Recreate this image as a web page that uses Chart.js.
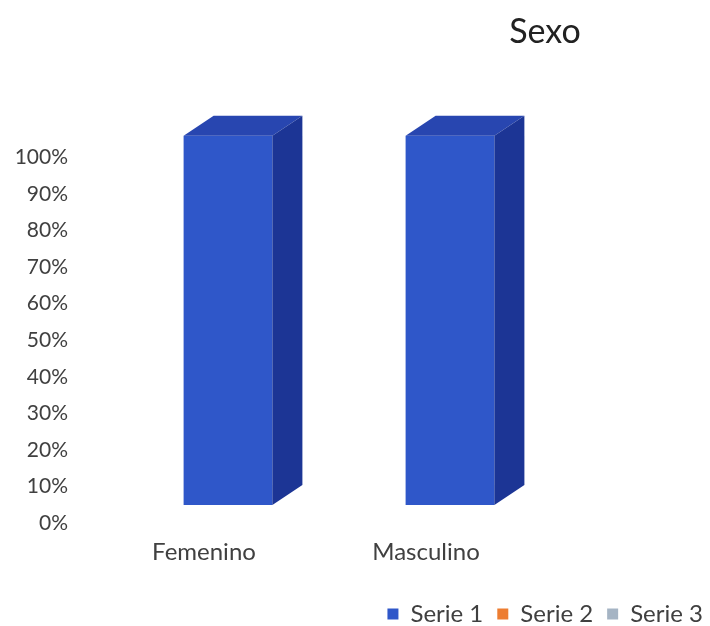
<!DOCTYPE html>
<html>
<head>
<meta charset="utf-8">
<script src="https://cdn.jsdelivr.net/npm/chart.js@4/dist/chart.umd.min.js"></script>
<style>
  body { margin: 0; background: #fff; }
  #wrap { position: relative; width: 710px; height: 626px; overflow: hidden; }
  #title { position: absolute; left: 445px; width: 200px; top: 9px; text-align: center;
           font-family: Lato, sans-serif; font-size: 34px; color: #222; }
</style>
</head>
<body>
<div id="wrap">
  <canvas id="chart" width="710" height="626"></canvas>
  <div id="title">Sexo</div>
</div>
<script>
const categories = ['Femenino', 'Masculino'];
const serie1 = [100, 100];
const serie2 = [null, null];
const serie3 = [null, null];
const yTicks = [0, 10, 20, 30, 40, 50, 60, 70, 80, 90, 100];

// fake 3d: draw top and side faces next to each bar of serie 1
const depth = { dx: 30, dy: 20 };
const bars3d = {
    id: 'bars3d',
    afterDatasetsDraw(chart) {
        const ctx = chart.ctx;
        const meta = chart.getDatasetMeta(0);
        meta.data.forEach(bar => {
            const left = bar.x - bar.width / 2;
            const right = bar.x + bar.width / 2;
            const top = bar.y;
            const bottom = bar.base;
            ctx.save();
            // top
            ctx.fillStyle = '#2846B0';
            ctx.beginPath();
            ctx.moveTo(left, top);
            ctx.lineTo(left + depth.dx, top - depth.dy);
            ctx.lineTo(right + depth.dx, top - depth.dy);
            ctx.lineTo(right, top);
            ctx.closePath();
            ctx.fill();
            // side
            ctx.fillStyle = '#1C3595';
            ctx.beginPath();
            ctx.moveTo(right, top);
            ctx.lineTo(right + depth.dx, top - depth.dy);
            ctx.lineTo(right + depth.dx, bottom - depth.dy);
            ctx.lineTo(right, bottom);
            ctx.closePath();
            ctx.fill();
            ctx.restore();
        });
    }
};

new Chart(document.getElementById('chart'), {
    type: 'bar',
    data: {
        labels: categories,
        datasets: [
            { label: 'Serie 1', data: serie1, backgroundColor: '#2F57C9', yAxisID: 'y2' },
            { label: 'Serie 2', data: serie2, backgroundColor: '#ED7D31', yAxisID: 'y2' },
            { label: 'Serie 3', data: serie3, backgroundColor: '#A5B4C4', yAxisID: 'y2' }
        ]
    },
    options: {
        responsive: false,
        animation: false,
        grouped: false,
        categoryPercentage: 0.8,
        barPercentage: 0.5,
        layout: { padding: { top: 121, right: -7, left: 0, bottom: -10 } },
        plugins: {
            tooltip: { enabled: false },
            legend: {
                position: 'bottom',
                align: 'end',
                labels: {
                    boxWidth: 11, boxHeight: 11, padding: 14,
                    color: '#404040',
                    font: { family: 'Lato', size: 24 }
                }
            }
        },
        scales: {
            x: {
                grid: { display: false },
                border: { display: false },
                afterFit: s => { s.height = 65; },
                ticks: {
                    padding: 7,
                    labelOffset: -24,
                    color: '#404040',
                    font: { family: 'Lato', size: 24 }
                }
            },
            y: {
                min: 0, max: 110,
                afterBuildTicks: axis => { axis.ticks = yTicks.concat([110]).map(v => ({ value: v })); },
                afterFit: s => { s.width = 117; },
                grid: { display: false },
                border: { display: false },
                ticks: {
                    padding: 41,
                    color: '#404040',
                    font: { family: 'Lato', size: 21 },
                    callback: v => v > 100 ? '' : v + '%'
                }
            },
            y2: {
                position: 'right',
                min: -4.9, max: 104,
                afterFit: s => { s.width = 156; },
                grid: { display: false },
                border: { display: false },
                ticks: { display: false }
            }
        }
    },
    plugins: [bars3d]
});
</script>
</body>
</html>
